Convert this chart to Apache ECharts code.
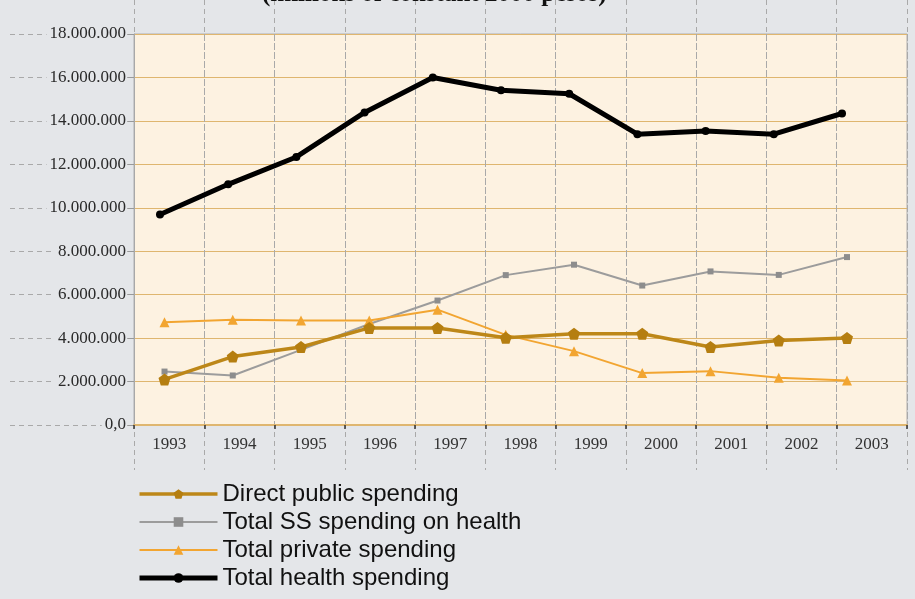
<!DOCTYPE html>
<html>
<head>
<meta charset="utf-8">
<script src="https://cdn.jsdelivr.net/npm/echarts@6/dist/echarts.min.js"></script>
<style>
  html, body { margin: 0; padding: 0; background: #e4e6e9; }
  #chart { width: 915px; height: 599px; }
</style>
</head>
<body>
<div id="chart"></div>
<script>
// Health spending in Mexico, 1993-2003 (millions of constant 2000 pesos)
const years = ['1993', '1994', '1995', '1996', '1997', '1998', '1999', '2000', '2001', '2002', '2003'];
const directPublic = [2100000, 3150000, 3590000, 4470000, 4470000, 4020000, 4200000, 4200000, 3590000, 3890000, 4010000];
const ssHealth = [2460000, 2280000, 3460000, 4650000, 5730000, 6900000, 7380000, 6420000, 7070000, 6910000, 7730000];
const privateSpending = [4730000, 4840000, 4810000, 4810000, 5310000, 4150000, 3400000, 2390000, 2480000, 2170000, 2050000];
const totalHealth = [9690000, 11080000, 12340000, 14390000, 16000000, 15410000, 15250000, 13390000, 13530000, 13390000, 14340000];
const seriesNames = ['Direct public spending', 'Total SS spending on health', 'Total private spending', 'Total health spending'];
const yMax = 18000000;
const yStep = 2000000;

// thousands separated by dots, zero written as 0,0
function fmtValue(v) {
  if (v === 0) return '0,0';
  return String(Math.round(v)).replace(/\B(?=(\d{3})+(?!\d))/g, '.');
}
const pts = arr => arr.map((v, i) => [i, v]);

const pageGray = '#e4e6e9';
const guideGray = '#a9a9a9';
const gridTan = '#dfb66f';
const serif = '"Liberation Serif", "DejaVu Serif", serif';
const pentagon = 'path://M0,-10 L9.51,-3.09 L5.88,8.09 L-5.88,8.09 L-9.51,-3.09 Z';
const lineWidths = [3.5, 2, 2, 5];

const chart = echarts.init(document.getElementById('chart'), null, { renderer: 'canvas' });
chart.setOption({
  backgroundColor: pageGray,
  animation: false,
  title: {
    text: '(millions of constant 2000 pesos)',
    left: 262,
    top: -18,
    padding: 0,
    textStyle: { fontFamily: serif, fontWeight: 'bold', fontSize: 25, color: '#111' }
  },
  grid: [
    { left: 10, width: 124, top: 34, bottom: 174 },
    { left: 134, right: 8, top: 34, bottom: 174, show: true, backgroundColor: '#fdf2e1', borderColor: '#b0b0b0', borderWidth: 1 },
    { left: 134, right: 8, top: 0, bottom: 129 }
  ],
  xAxis: [
    { gridIndex: 0, type: 'category', data: years, show: false },
    {
      gridIndex: 1, type: 'category', data: years, boundaryGap: true,
      axisLine: { show: true, onZero: false, lineStyle: { color: gridTan, width: 2 } },
      axisTick: { show: true, length: 4, lineStyle: { color: '#333', width: 1.5 } },
      axisLabel: { fontFamily: serif, fontSize: 17, color: '#333', margin: 11, interval: 0 },
      splitLine: { show: true, interval: 0, lineStyle: { color: guideGray, type: [5, 4], width: 1 } }
    },
    { gridIndex: 1, type: 'value', min: -0.447, max: 10.879, show: false },
    { gridIndex: 1, type: 'value', min: -0.381, max: 10.953, show: false },
    {
      gridIndex: 2, type: 'category', data: years, boundaryGap: true,
      axisLine: { show: false }, axisTick: { show: false }, axisLabel: { show: false },
      splitLine: { show: true, interval: 0, lineStyle: { color: guideGray, type: [5, 4], width: 1 } }
    }
  ],
  yAxis: [
    {
      gridIndex: 0, type: 'value', min: 0, max: yMax, interval: yStep,
      axisLine: { show: false }, axisTick: { show: false }, axisLabel: { show: false },
      splitLine: { show: true, lineStyle: { color: guideGray, type: [5, 4], width: 1 } }
    },
    {
      gridIndex: 1, type: 'value', min: 0, max: yMax, interval: yStep,
      axisLine: { show: true, onZero: false, lineStyle: { color: '#a8a8a8', width: 1 } },
      axisTick: { show: true, length: 6, lineStyle: { color: '#999' } },
      axisLabel: {
        formatter: fmtValue, fontFamily: serif, fontSize: 17, color: '#2a2a2a', margin: 7,
        backgroundColor: pageGray, padding: [0, 1, 0, 3]
      },
      splitLine: { show: true, lineStyle: { color: gridTan, width: 1.2 } }
    },
    { gridIndex: 2, type: 'value', min: 0, max: 1, show: false }
  ],
  legend: {
    orient: 'vertical',
    left: 137,
    top: 480,
    height: 118,
    padding: 0,
    itemWidth: 78,
    itemHeight: 12,
    itemGap: 0,
    data: seriesNames.map((name, i) => ({ name, lineStyle: { width: lineWidths[i] } })),
    textStyle: { fontFamily: '"Liberation Sans", Arial, sans-serif', fontSize: 24, color: '#111', lineHeight: 28 }
  },
  series: [
    {
      name: seriesNames[0], type: 'line', xAxisIndex: 2, yAxisIndex: 1, data: pts(directPublic),
      symbol: pentagon, symbolSize: 12, z: 4,
      lineStyle: { color: '#bd8718', width: lineWidths[0] },
      itemStyle: { color: '#b57e10' }
    },
    {
      name: seriesNames[1], type: 'line', xAxisIndex: 2, yAxisIndex: 1, data: pts(ssHealth),
      symbol: 'rect', symbolSize: 6, z: 3,
      lineStyle: { color: '#9c9c9c', width: lineWidths[1] },
      itemStyle: { color: '#8d8d8d' }
    },
    {
      name: seriesNames[2], type: 'line', xAxisIndex: 2, yAxisIndex: 1, data: pts(privateSpending),
      symbol: 'triangle', symbolSize: 10, z: 3,
      lineStyle: { color: '#f2a531', width: lineWidths[2] },
      itemStyle: { color: '#f2a531' }
    },
    {
      name: seriesNames[3], type: 'line', xAxisIndex: 3, yAxisIndex: 1, data: pts(totalHealth),
      symbol: 'circle', symbolSize: 8, z: 5,
      lineStyle: { color: '#000', width: lineWidths[3] },
      itemStyle: { color: '#000' }
    }
  ]
});
</script>
</body>
</html>
